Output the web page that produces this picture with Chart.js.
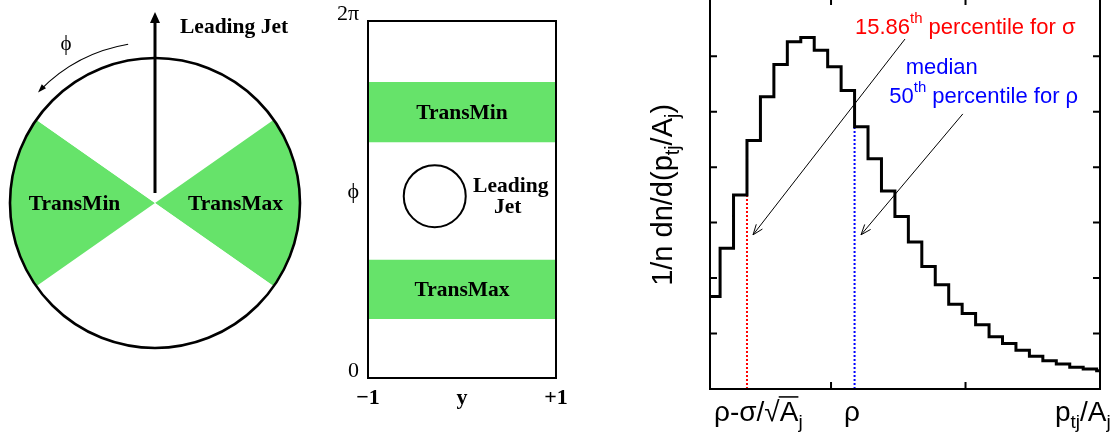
<!DOCTYPE html>
<html><head><meta charset="utf-8">
<script src="https://cdn.jsdelivr.net/npm/chart.js@4.4.1/dist/chart.umd.min.js"></script>
<style>
html,body{margin:0;padding:0;background:#fff;width:1120px;height:436px;overflow:hidden;position:relative}
.p{position:absolute}
canvas{display:block}
</style></head><body>
<div class="p" style="left:0;top:0;width:320px;height:436px"><canvas id="c1" width="320" height="436"></canvas></div>
<div class="p" style="left:320px;top:0;width:280px;height:436px"><canvas id="c2" width="280" height="436"></canvas></div>
<div class="p" style="left:620px;top:-2px;width:500px;height:438px"><canvas id="c3" width="500" height="438"></canvas></div>
<script>
// ---------------- data ----------------
// Left panel: azimuthal regions, degrees clockwise from the leading jet
const regionNames   = ['Toward', 'TransMax', 'Away', 'TransMin', 'Toward '];
const regionDegrees = [55, 70, 110, 70, 55];

// Middle panel: (y, phi) plane
const bandNames = ['TransMax', 'TransMin'];
const bandLow   = [1.04, 4.15];
const bandHigh  = [2.08, 5.21];
const jetRapidity = [-0.29];
const jetPhi      = [3.2];
const rapTickValues = [-1, 0, 1];
const rapTickLabels = ['\u22121', 'y', '+1'];
const phiTickValues = [0, Math.PI, 2 * Math.PI];
const phiTickLabels = ['0', '\u03D5', '2\u03C0'];

// Right panel: histogram of p_tj/A_j (bin lower edges and contents)
const binLow = [0.075, 0.175, 0.275, 0.375, 0.475, 0.575, 0.675, 0.775, 0.875, 0.975,
                1.075, 1.175, 1.275, 1.375, 1.475, 1.575, 1.675, 1.775, 1.875, 1.975,
                2.075, 2.175, 2.275, 2.375, 2.475, 2.575, 2.675, 2.775, 2.875, 2.975];
const binValue = [1.67, 2.54, 3.50, 4.48, 5.27, 5.85, 6.26, 6.34, 6.11, 5.81,
                  5.38, 4.73, 4.15, 3.57, 3.11, 2.65, 2.21, 1.88, 1.53, 1.36,
                  1.16, 0.94, 0.82, 0.70, 0.59, 0.51, 0.45, 0.39, 0.36, 0.33];
const sigmaEdge  = 0.375;   // 15.86th percentile
const medianEdge = 1.175;   // 50th percentile
const histXTicks = [1, 2];
const histYTicks = [1, 2, 3, 4, 5, 6];
const arrowSigma  = [{x: 1.55, y: 6.31}, {x: 0.42, y: 2.78}];
const arrowMedian = [{x: 1.98, y: 4.96}, {x: 1.223, y: 2.78}];

// ---------------- helpers ----------------
const GREEN = '#66e36a';
const SERIF = '"Liberation Serif", "Times New Roman", serif';
const SANS  = '"Liberation Sans", Arial, Helvetica, sans-serif';

function setFont(ctx, size, family, weight) { ctx.font = (weight || 'normal') + ' ' + size + 'px ' + family; }
function partSize(k, size) { return (k === 'sub' || k === 'sup') ? size * 0.68 : size; }
function richWidth(ctx, parts, size, family, weight) {
  let w = 0;
  for (const [t, k] of parts) { setFont(ctx, partSize(k, size), family, weight); w += ctx.measureText(t).width; }
  return w;
}
function drawRich(ctx, x, y, parts, o) {
  const size = o.size, fam = o.family, wt = o.weight || 'normal';
  const w = richWidth(ctx, parts, size, fam, wt);
  let cx = o.align === 'center' ? x - w / 2 : (o.align === 'right' ? x - w : x);
  ctx.save();
  ctx.fillStyle = o.color || '#000'; ctx.strokeStyle = o.color || '#000';
  ctx.textAlign = 'left'; ctx.textBaseline = 'alphabetic';
  for (const [t, k] of parts) {
    const s = partSize(k, size);
    const dy = k === 'sub' ? size * 0.25 : (k === 'sup' ? -size * 0.48 : 0);
    setFont(ctx, s, fam, wt);
    ctx.fillText(t, cx, y + dy);
    const tw = ctx.measureText(t).width;
    if (k === 'over') {
      ctx.lineWidth = Math.max(1, size * 0.055);
      ctx.beginPath(); ctx.moveTo(cx - 1, y - size * 0.86); ctx.lineTo(cx + tw, y - size * 0.86); ctx.stroke();
    }
    cx += tw;
  }
  ctx.restore();
}
function arrowHead(ctx, x0, y0, x1, y1, len, half, filled) {
  const ang = Math.atan2(y1 - y0, x1 - x0);
  const ax = x1 - len * Math.cos(ang - half), ay = y1 - len * Math.sin(ang - half);
  const bx = x1 - len * Math.cos(ang + half), by = y1 - len * Math.sin(ang + half);
  ctx.beginPath(); ctx.moveTo(ax, ay); ctx.lineTo(x1, y1); ctx.lineTo(bx, by);
  if (filled) { ctx.closePath(); ctx.fill(); } else { ctx.stroke(); }
}

// ---------------- left panel ----------------
const leftDeco = {
  id: 'leftDeco',
  afterDatasetsDraw(chart) {
    const ctx = chart.ctx;
    const meta = chart.getDatasetMeta(0);
    const a0 = meta.data[0];
    const cx = a0.x, cy = a0.y, R = a0.outerRadius;
    ctx.save();
    ctx.strokeStyle = '#000'; ctx.fillStyle = '#000';
    ctx.lineWidth = 2.6;
    ctx.beginPath(); ctx.arc(cx, cy, R, 0, 2 * Math.PI); ctx.stroke();
    // region labels
    meta.data.forEach((arc, i) => {
      if (!regionNames[i].startsWith('Trans')) return;
      const mid = (arc.startAngle + arc.endAngle) / 2;
      const r = R * 0.555;
      drawRich(ctx, cx + Math.cos(mid) * r, cy + Math.sin(mid) * r + 7, [[regionNames[i]]],
        {size: 21.5, family: SERIF, weight: 'bold', align: 'center'});
    });
    // leading jet arrow
    const tipY = cy - R - 46;
    ctx.lineWidth = 3;
    ctx.beginPath(); ctx.moveTo(cx, cy - 10); ctx.lineTo(cx, tipY + 8); ctx.stroke();
    ctx.beginPath(); ctx.moveTo(cx, tipY); ctx.lineTo(cx - 5, tipY + 11); ctx.lineTo(cx + 5, tipY + 11); ctx.closePath(); ctx.fill();
    drawRich(ctx, cx + 25, tipY + 21, [['Leading Jet']], {size: 21.5, family: SERIF, weight: 'bold'});
    // phi direction arc
    const r2 = R + 16;
    const a1 = -99.6 * Math.PI / 180, a2 = -136.6 * Math.PI / 180;
    ctx.lineWidth = 1.2;
    ctx.beginPath(); ctx.arc(cx, cy, r2, a1, a2 + 0.02, true); ctx.stroke();
    const ex = cx + r2 * Math.cos(a2), ey = cy + r2 * Math.sin(a2);
    const dx = Math.sin(a2), dy = -Math.cos(a2);
    arrowHead(ctx, ex - dx * 10, ey - dy * 10, ex, ey, 9, 0.33, true);
    drawRich(ctx, cx - 89, cy - 153, [['\u03D5']], {size: 21, family: SERIF, align: 'center'});
    ctx.restore();
  }
};

new Chart(document.getElementById('c1'), {
  type: 'pie',
  data: {
    labels: regionNames,
    datasets: [{
      data: regionDegrees,
      backgroundColor: regionNames.map(n => n.startsWith('Trans') ? GREEN : '#ffffff'),
      borderWidth: 0, hoverOffset: 0, offset: 0
    }]
  },
  options: {
    responsive: false, animation: false, events: [],
    layout: {autoPadding: false, padding: {left: 5, right: 15, top: 58, bottom: 88}},
    plugins: {legend: {display: false}, tooltip: {enabled: false}}
  },
  plugins: [leftDeco]
});

// ---------------- middle panel ----------------
const midDeco = {
  id: 'midDeco',
  afterDraw(chart) {
    const {ctx, chartArea: a, scales: {x, y}} = chart;
    ctx.save();
    ctx.strokeStyle = '#000'; ctx.lineWidth = 2;
    ctx.strokeRect(a.left, a.top, a.right - a.left, a.bottom - a.top);
    bandNames.forEach((n, i) => {
      drawRich(ctx, x.getPixelForValue(0), y.getPixelForValue((bandLow[i] + bandHigh[i]) / 2) + 7, [[n]],
        {size: 21.5, family: SERIF, weight: 'bold', align: 'center'});
    });
    const p = chart.getDatasetMeta(bandNames.length).data[0];
    drawRich(ctx, p.x + 76, p.y - 4, [['Leading']], {size: 21.5, family: SERIF, weight: 'bold', align: 'center'});
    drawRich(ctx, p.x + 73, p.y + 17, [['Jet']], {size: 21.5, family: SERIF, weight: 'bold', align: 'center'});
    ctx.restore();
  }
};

new Chart(document.getElementById('c2'), {
  type: 'scatter',
  data: {
    datasets: [
      ...bandNames.map((n, i) => ({
        type: 'line', label: n,
        data: [{x: -1, y: bandHigh[i]}, {x: 1, y: bandHigh[i]}],
        fill: {value: bandLow[i]}, backgroundColor: GREEN,
        borderColor: 'rgba(0,0,0,0)', borderWidth: 0, pointRadius: 0
      })),
      {
        type: 'scatter', label: 'Leading Jet',
        data: [{x: jetRapidity[0], y: jetPhi[0]}],
        pointRadius: 31, borderColor: '#000', borderWidth: 2, backgroundColor: 'rgba(0,0,0,0)'
      }
    ]
  },
  options: {
    responsive: false, animation: false, events: [],
    layout: {autoPadding: false, padding: {top: 21, right: 44, left: 0, bottom: 0}},
    plugins: {legend: {display: false}, tooltip: {enabled: false}},
    scales: {
      x: {
        type: 'linear', min: -1, max: 1,
        grid: {display: false, drawTicks: false}, border: {display: false},
        afterBuildTicks: s => { s.ticks = rapTickValues.map(v => ({value: v})); },
        afterFit: s => { s.height = 58; s.paddingLeft = 0; s.paddingRight = 0; },
        ticks: {callback: (v, i) => rapTickLabels[i], color: '#000', padding: 7, maxRotation: 0, autoSkip: false,
                font: {family: SERIF, size: 22, weight: 'bold'}}
      },
      y: {
        type: 'linear', min: 0, max: 2 * Math.PI,
        grid: {display: false, drawTicks: false}, border: {display: false},
        afterBuildTicks: s => { s.ticks = phiTickValues.map(v => ({value: v})); },
        afterFit: s => { s.width = 48; s.paddingTop = 0; s.paddingBottom = 0; },
        ticks: {callback: (v, i) => phiTickLabels[i], color: '#000', padding: 9, labelOffset: -7, autoSkip: false,
                font: {family: SERIF, size: 22}}
      }
    }
  },
  plugins: [midDeco]
});

// ---------------- right panel ----------------
const histPoints = binLow.map((x, i) => ({x: x, y: binValue[i]}));
histPoints.push({x: 2 * binLow[binLow.length - 1] - binLow[binLow.length - 2], y: binValue[binValue.length - 1]});
const valueAt = edge => binValue[binLow.indexOf(edge)];

const histLabels = [
  {parts: [['15.86'], ['th', 'sup'], [' percentile for \u03C3']], x: 1.178, y: 6.405, color: '#ff0000', size: 22},
  {parts: [['median']], x: 1.555, y: 5.683, color: '#0000ff', size: 22},
  {parts: [['50'], ['th', 'sup'], [' percentile for \u03C1']], x: 1.433, y: 5.16, color: '#0000ff', size: 22},
  {parts: [['\u03C1-\u03C3/\u221A'], ['A', 'over'], ['j', 'sub']], x: 0.13, y: -0.577, size: 28},
  {parts: [['\u03C1']], x: 1.156, y: -0.577, size: 28, align: 'center'},
  {parts: [['p'], ['tj', 'sub'], ['/A'], ['j', 'sub']], x: 2.665, y: -0.577, size: 28}
];
const histTitle = {parts: [['1/n dn/d(p'], ['tj', 'sub'], ['/A'], ['j', 'sub'], [')']], x: -0.183, y: 3.5, size: 29};

const histDeco = {
  id: 'histDeco',
  afterDraw(chart) {
    const {ctx, chartArea: a, scales: {x, y}} = chart;
    ctx.save();
    ctx.strokeStyle = '#000'; ctx.fillStyle = '#000'; ctx.lineWidth = 2;
    ctx.strokeRect(a.left, a.top, a.right - a.left, a.bottom - a.top);
    ctx.beginPath();
    histXTicks.forEach(v => {
      const px = x.getPixelForValue(v);
      ctx.moveTo(px, a.bottom); ctx.lineTo(px, a.bottom - 7);
      ctx.moveTo(px, a.top); ctx.lineTo(px, a.top + 7);
    });
    histYTicks.forEach(v => {
      const py = y.getPixelForValue(v);
      ctx.moveTo(a.left, py); ctx.lineTo(a.left + 7, py);
      ctx.moveTo(a.right, py); ctx.lineTo(a.right - 7, py);
    });
    ctx.stroke();
    ctx.lineWidth = 1;
    chart.data.datasets.forEach((ds, i) => {
      if (!ds.label.startsWith('arrow')) return;
      const pts = chart.getDatasetMeta(i).data;
      arrowHead(ctx, pts[0].x, pts[0].y, pts[1].x, pts[1].y, 11, 0.36, false);
    });
    histLabels.forEach(l => {
      drawRich(ctx, x.getPixelForValue(l.x), y.getPixelForValue(l.y), l.parts,
        {size: l.size, family: SANS, color: l.color || '#000', align: l.align || 'left'});
    });
    ctx.translate(x.getPixelForValue(histTitle.x), y.getPixelForValue(histTitle.y));
    ctx.rotate(-Math.PI / 2);
    drawRich(ctx, 0, 0, histTitle.parts, {size: histTitle.size, family: SANS, align: 'center'});
    ctx.restore();
  }
};

new Chart(document.getElementById('c3'), {
  type: 'line',
  data: {
    datasets: [
      {label: 'hist', data: histPoints, stepped: 'before', borderColor: '#000', borderWidth: 3,
       pointRadius: 0, fill: false, order: 0, borderJoinStyle: 'miter', borderCapStyle: 'butt'},
      {label: 'arrow-sigma', data: arrowSigma, borderColor: '#000', borderWidth: 1, pointRadius: 0, order: 0},
      {label: 'arrow-median', data: arrowMedian, borderColor: '#000', borderWidth: 1, pointRadius: 0, order: 0},
      {label: 'sigma', data: [{x: sigmaEdge, y: 0}, {x: sigmaEdge, y: valueAt(sigmaEdge)}],
       borderColor: '#ff0000', borderDash: [2, 2], borderWidth: 2, pointRadius: 0, order: 1},
      {label: 'median', data: [{x: medianEdge, y: 0}, {x: medianEdge, y: valueAt(medianEdge)}],
       borderColor: '#0000ff', borderDash: [2, 2], borderWidth: 2, pointRadius: 0, order: 1}
    ]
  },
  options: {
    responsive: false, animation: false, events: [],
    layout: {autoPadding: false, padding: {left: 90, right: 20, top: 0, bottom: 47}},
    scales: {
      x: {type: 'linear', min: 0.1, max: 3.0, display: false},
      y: {type: 'linear', min: 0, max: 7.05, display: false}
    },
    plugins: {legend: {display: false}, tooltip: {enabled: false}}
  },
  plugins: [histDeco]
});
</script>
</body></html>
